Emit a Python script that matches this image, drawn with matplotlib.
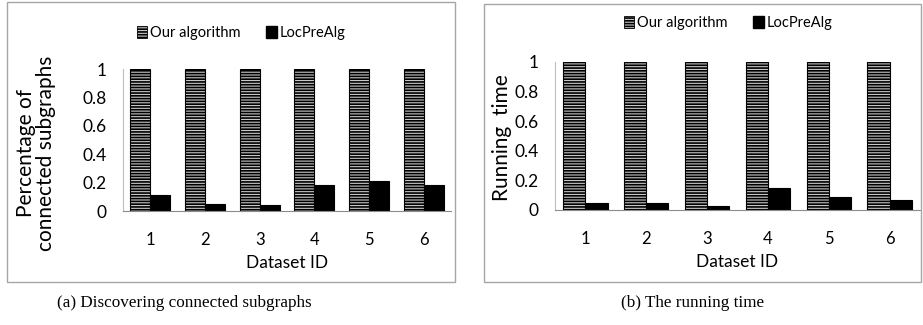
import matplotlib
matplotlib.use("Agg")
import matplotlib.pyplot as plt
from matplotlib.patches import Rectangle, Patch
import numpy as np

plt.rcParams['hatch.linewidth'] = 1.2
plt.rcParams['hatch.color'] = '#505050'

datasets = ["1", "2", "3", "4", "5", "6"]
series_names = ["Our algorithm", "LocPreAlg"]
pct_ours = [1, 1, 1, 1, 1, 1]
pct_loc = [0.11, 0.05, 0.04, 0.18, 0.21, 0.18]
time_ours = [1, 1, 1, 1, 1, 1]
time_loc = [0.05, 0.05, 0.03, 0.15, 0.09, 0.07]
yticks = [0, 0.2, 0.4, 0.6, 0.8, 1]
ytick_labels = ["0", "0.2", "0.4", "0.6", "0.8", "1"]

W, H = 923, 325
fig = plt.figure(figsize=(W / 100, H / 100), dpi=100)
FONT = "Lato"
HFACE = '#c8c8c8'

def px_axes(l, r, top, bottom):
    return fig.add_axes([l / W, 1 - bottom / H, (r - l) / W, (bottom - top) / H])

def border(l, r, top, bottom):
    fig.patches.append(Rectangle((l / W, 1 - bottom / H), (r - l) / W, (bottom - top) / H,
                                 transform=fig.transFigure, fill=False,
                                 edgecolor='#a6a6a6', linewidth=1.0))

def draw(ax, ours, loc, ylabel, ylabel_pos, ylabel_size, legend_xy):
    x = np.arange(len(datasets))
    bw = 0.365
    ax.bar(x - bw / 2, ours, bw, facecolor=HFACE, edgecolor='black', linewidth=0.8,
           hatch='------', label=series_names[0])
    ax.bar(x + bw / 2, loc, bw, facecolor='black', edgecolor='black', linewidth=0.8,
           label=series_names[1])
    ax.set_xlim(-0.5, len(datasets) - 0.5)
    ax.set_ylim(0, 1)
    ax.set_yticks(yticks)
    ax.set_yticklabels(ytick_labels, fontfamily=FONT, fontsize=12.5)
    ax.set_xticks(x)
    ax.set_xticklabels(datasets, fontfamily=FONT, fontsize=12)
    ax.tick_params(length=0)
    ax.tick_params(axis='y', pad=12)
    ax.tick_params(axis='x', pad=15)
    for s in ['top', 'right']:
        ax.spines[s].set_visible(False)
    ax.spines['left'].set_color('#bfbfbf')
    ax.spines['left'].set_linewidth(0.8)
    ax.spines['bottom'].set_color('#8c8c8c')
    ax.spines['bottom'].set_linewidth(0.8)
    ax.set_xlabel("Dataset ID", fontfamily=FONT, fontsize=12.5, labelpad=5)
    fig.text(ylabel_pos[0] / W, 1 - ylabel_pos[1] / H, ylabel, rotation=90, ha='center',
             va='center', fontfamily=FONT, fontsize=ylabel_size, linespacing=0.95)
    handles = [Patch(facecolor=HFACE, edgecolor='black', hatch='------', linewidth=0.6),
               Patch(facecolor='black', edgecolor='black')]
    fig.legend(handles, series_names, loc='center', ncol=2,
               bbox_to_anchor=(legend_xy[0] / W, 1 - legend_xy[1] / H),
               frameon=False, prop={'family': FONT, 'size': 10.5},
               handlelength=0.7, handleheight=0.9, handletextpad=0.2, columnspacing=1.8)

border(7, 455, 2, 282)
border(484, 921, 4, 282)

ax1 = px_axes(123, 451, 69, 211)
draw(ax1, pct_ours, pct_loc, "Percentage of\nconnected subgraphs", (36, 153), 15, (241, 33))

ax2 = px_axes(555, 920, 62, 210)
draw(ax2, time_ours, time_loc, "Running  time", (502, 138), 15, (728, 23))

fig.text(184 / W, 1 - 303 / H, "(a) Discovering connected subgraphs", ha='center', va='center',
         fontfamily='Liberation Serif', fontsize=12.3)
fig.text(693 / W, 1 - 303 / H, "(b) The running time", ha='center', va='center',
         fontfamily='Liberation Serif', fontsize=12.3)

fig.savefig("out.png", dpi=100)
